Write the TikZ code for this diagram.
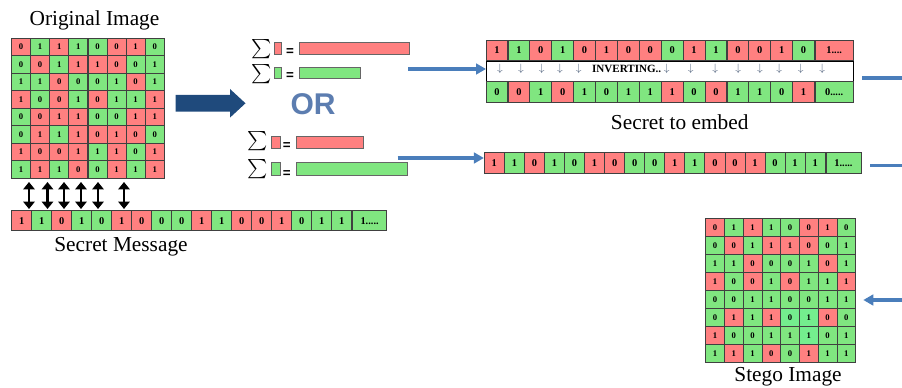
\documentclass[tikz,border=0pt]{standalone}
\usepackage{fontspec}
\setmainfont{Liberation Serif}
\setsansfont{Liberation Sans}
\usepackage{xcolor}
\usepackage{amsmath}
\usetikzlibrary{arrows.meta}

\definecolor{cr}{HTML}{FF8080}
\definecolor{cg}{HTML}{80E680}
\definecolor{cl}{HTML}{74EE8E}
\definecolor{linkblue}{HTML}{4A7EBB}
\definecolor{bignavy}{HTML}{1F4A7C}
\definecolor{orfill}{HTML}{5C7DB0}
\definecolor{invgray}{HTML}{5A6B85}

\tikzset{
  bit/.style={draw=black!75, line width=0.6pt, inner sep=0pt, font=\bfseries\fontsize{7.8}{8}\selectfont},
  pixel/.style={bit, minimum width=14.3pt, minimum height=13.1pt, font=\bfseries\fontsize{6.5}{7}\selectfont},
  captext/.style={font=\fontsize{16}{18}\selectfont, anchor=base, inner sep=0pt},
  sumbar/.style={draw=black!60, line width=0.6pt},
  sumsign/.style={font=\fontsize{13.5}{14}\selectfont, inner sep=0pt},
  eqsign/.style={font=\sffamily\bfseries\fontsize{10}{10}\selectfont, inner sep=0pt},
  bluelink/.style={linkblue, line width=2.6pt, -{Triangle[width=8pt,length=7.5pt]}},
  bothway/.style={line width=1.8pt, {Triangle[width=8.5pt,length=5.5pt]}-{Triangle[width=8.5pt,length=5.5pt]}},
}

\begin{document}
\begin{tikzpicture}[x=0.75pt, y=-0.75pt]
    \useasboundingbox (0,0) rectangle (902,388);

    % Cover image: 8x8 pixels with their bits
    \node[captext] (origtitle) at (94.5,26) {Original Image};
    \foreach \row [count=\j] in {
        {0/r,1/g,1/r,1/g,0/g,0/r,1/r,0/g},
        {0/g,0/r,1/g,1/r,1/r,0/r,0/g,1/g},
        {1/g,1/g,0/r,0/g,0/g,1/g,0/r,1/g},
        {1/r,0/g,0/r,1/g,0/r,1/g,1/g,1/r},
        {0/g,0/r,1/r,1/r,0/g,0/g,1/r,1/r},
        {0/g,1/r,1/g,1/r,0/r,1/r,0/r,0/g},
        {1/r,0/r,0/r,1/r,1/g,1/r,0/g,1/r},
        {1/g,1/r,1/g,0/r,0/g,1/r,1/g,1/r}}
      \foreach \v/\c [count=\i] in \row
        \node[pixel, fill=c\c] (o-\j-\i) at ({11.5+(\i-0.5)*19.1}, {38+(\j-0.5)*17.5}) {\v};

    % Message bits under the cover image
    \foreach \v/\c [count=\i] in {1/r,1/g,0/r,1/g,0/g,1/r,0/r,0/g,0/g,1/r,1/g,0/r,0/r,1/r,0/g,1/g,1/g}
      \node[bit, fill=c\c, minimum width=15pt, minimum height=15pt] (m-\i) at ({11.7+(\i-0.5)*20}, 220.7) {\v};
    \node[bit, fill=cg, minimum width=25.7pt, minimum height=15pt, anchor=west] (m-18) at (m-17.east) {1.....};
    \node[captext] (msgtitle) at (121,251) {Secret Message};

    % Comparing LSBs with the message bits
    \foreach \x [count=\k] in {29,47.5,64,81,98,124} {
      \coordinate (up\k) at (\x,182);
      \coordinate (dn\k) at (\x,209);
      \draw[bothway] (up\k) -- (dn\k);
    }

    % Big arrow and the two cases
    \fill[bignavy] (175.7,95) -- (230,95) -- (230,89) -- (245.5,103.3) -- (230,117.6) -- (230,111.7) -- (175.7,111.7) -- cycle;
    \node[font=\sffamily\bfseries\fontsize{22.5}{24}\selectfont, text=orfill] (ortext) at (313,104) {OR};

    % Case one: more red than green
    \node[sumsign] (sum1) at (261.2,49.2) {$\sum$};
    \draw[sumbar, fill=cr] (274,42.7) rectangle (281.7,54.3);
    \node[eqsign] (eq1) at (290,51.7) {=};
    \draw[sumbar, fill=cr] (299.3,42.7) rectangle (409,54.3);
    \node[sumsign] (sum2) at (261.2,73.8) {$\sum$};
    \draw[sumbar, fill=cg] (274,67) rectangle (281.7,78.7);
    \node[eqsign] (eq2) at (290,75.8) {=};
    \draw[sumbar, fill=cg] (299.3,67) rectangle (360.7,78.7);

    % Case two: more green than red
    \node[sumsign] (sum3) at (257.8,141.2) {$\sum$};
    \draw[sumbar, fill=cr] (271.7,136) rectangle (280,148.3);
    \node[eqsign] (eq3) at (286.7,145.8) {=};
    \draw[sumbar, fill=cr] (296.7,136) rectangle (363.3,148.3);
    \node[sumsign] (sum4) at (257.8,169.2) {$\sum$};
    \draw[sumbar, fill=cg] (271.7,162.7) rectangle (280,175.7);
    \node[eqsign] (eq4) at (286.7,174.2) {=};
    \draw[sumbar, fill=cg] (296.7,162.7) rectangle (407.7,175.7);

    % Message bits, then inverted
    \foreach \v/\c [count=\i] in {1/r,1/g,0/r,1/g,0/r,1/r,0/r,0/r,0/g,1/r,1/g,0/r,0/r,1/r,0/g}
      \node[bit, fill=c\c, minimum width=16.4pt, minimum height=15.5pt] (t-\i) at ({486+(\i-0.5)*21.9}, 50.35) {\v};
    \node[bit, fill=cr, minimum width=28.3pt, minimum height=15.5pt, anchor=west] (t-16) at (t-15.east) {1....};
    \node[draw=black, line width=0.8pt, fill=white, minimum width=275.3pt, minimum height=15.75pt,
          anchor=north west, inner sep=0pt] (invbox) at (486,60.7) {};
    \foreach \x [count=\k] in {500,521,541.7,560,578.7,666.7,690.7,715.3,738.3,760,779.3,800.7,822.3}
      \node[text=invgray, font=\fontsize{8}{8}\selectfont, inner sep=0pt] (down-\k) at (\x,68.5) {$\downarrow$};
    \node[font=\bfseries\fontsize{8.3}{9}\selectfont, inner sep=0pt] (invtext) at (626.7,68.7) {INVERTING..};
    \foreach \v/\c [count=\i] in {0/g,0/r,1/g,0/r,1/g,0/g,1/g,1/g,1/r,0/g,0/r,1/g,1/g,0/g,1/r}
      \node[bit, fill=c\c, minimum width=16.4pt, minimum height=15.5pt] (b-\i) at ({486+(\i-0.5)*21.9}, 92) {\v};
    \node[bit, fill=cg, minimum width=28.3pt, minimum height=15.5pt, anchor=west] (b-16) at (b-15.east) {0.....};
    \node[captext] (embedtitle) at (679.7,130) {Secret to embed};

    % Message bits kept as they are
    \foreach \v/\c [count=\i] in {1/r,1/g,0/r,1/g,0/g,1/r,0/r,0/g,0/g,1/r,1/g,0/r,0/r,1/r,0/g,1/g,1/g}
      \node[bit, fill=c\c, minimum width=15.04pt, minimum height=15.75pt] (k-\i) at ({484.3+(\i-0.5)*20.05}, 162.8) {\v};
    \node[bit, fill=cg, minimum width=26.25pt, minimum height=15.75pt, anchor=west] (k-18) at (k-17.east) {1.....};

    % Stego image
    \foreach \row [count=\j] in {
        {0/r,1/g,1/r,1/g,0/g,0/r,1/r,0/g},
        {0/g,0/r,1/g,1/r,1/r,0/r,0/g,1/g},
        {1/g,1/g,0/r,0/g,0/g,1/g,0/r,1/g},
        {1/r,0/g,0/r,1/g,0/r,1/g,1/g,1/r},
        {0/g,0/g,1/g,1/g,0/g,0/g,1/g,1/g},
        {0/g,1/r,1/g,1/r,0/l,1/l,0/r,0/g},
        {1/r,0/g,0/g,1/g,1/g,1/l,0/g,1/g},
        {1/g,1/r,1/g,0/r,0/g,1/r,1/g,1/g}}
      \foreach \v/\c [count=\i] in \row
        \node[pixel, fill=c\c, minimum width=14.06pt, minimum height=13.5pt] (s-\j-\i) at ({705.7+(\i-0.5)*18.75}, {218.3+(\j-0.5)*18}) {\v};
    \node[captext] (stegotitle) at (788,381.7) {Stego Image};

    % Blue links
    \coordinate (feed1) at (408,69);
    \draw[bluelink] (feed1) -- (feed1 -| invbox.west);
    \coordinate (feed2) at (397.7,158);
    \draw[bluelink] (feed2) -- (feed2 -| k-1.west);
    \coordinate (out1a) at (862,78);
    \coordinate (out1b) at (902,78);
    \draw[bluelink, -] (out1a) -- (out1b);
    \coordinate (out2a) at (870,165.7);
    \coordinate (out2b) at (902,165.7);
    \draw[bluelink, -] (out2a) -- (out2b);
    \coordinate (back) at (902,300);
    \coordinate (backtip) at (863.3,300);
    \draw[bluelink] (back) -- (backtip);
\end{tikzpicture}
\end{document}
